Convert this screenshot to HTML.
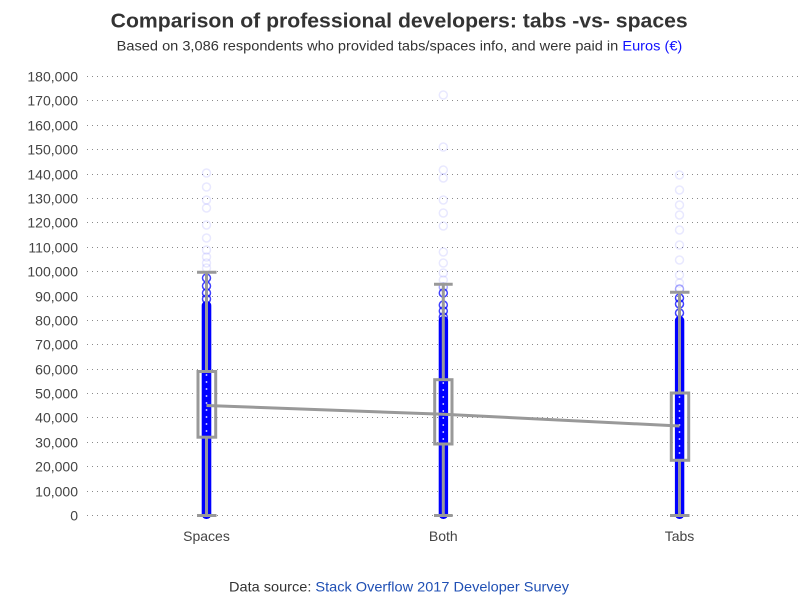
<!DOCTYPE html>
<html>
<head>
<meta charset="utf-8">
<style>
  html, body { margin: 0; padding: 0; background: #ffffff; }
  svg { display: block; }
  text { font-family: "Liberation Sans", Arial, sans-serif; }
</style>
</head>
<body>
<svg width="800" height="600" viewBox="0 0 800 600" xmlns="http://www.w3.org/2000/svg">
  <rect x="0" y="0" width="800" height="600" fill="#ffffff"/>

  <!-- Title -->
  <text x="110.7" y="27.7" font-size="20" font-weight="bold" fill="#333333" textLength="577" lengthAdjust="spacingAndGlyphs">Comparison of professional developers: tabs -vs- spaces</text>
  <text x="116.7" y="50.5" font-size="14" fill="#333333" textLength="565.6" lengthAdjust="spacingAndGlyphs">Based on 3,086 respondents who provided tabs/spaces info, and were paid in <tspan fill="#1010ff">Euros (€)</tspan></text>

  <!-- Gridlines -->
  <g stroke="#8a8a8a" stroke-width="1" stroke-dasharray="1 4" fill="none">
    <line x1="87" y1="515.5" x2="800" y2="515.5"/>
    <line x1="87" y1="491.5" x2="800" y2="491.5"/>
    <line x1="87" y1="466.5" x2="800" y2="466.5"/>
    <line x1="87" y1="442.5" x2="800" y2="442.5"/>
    <line x1="87" y1="417.5" x2="800" y2="417.5"/>
    <line x1="87" y1="393.5" x2="800" y2="393.5"/>
    <line x1="87" y1="369.5" x2="800" y2="369.5"/>
    <line x1="87" y1="344.5" x2="800" y2="344.5"/>
    <line x1="87" y1="320.5" x2="800" y2="320.5"/>
    <line x1="87" y1="296.5" x2="800" y2="296.5"/>
    <line x1="87" y1="271.5" x2="800" y2="271.5"/>
    <line x1="87" y1="247.5" x2="800" y2="247.5"/>
    <line x1="87" y1="222.5" x2="800" y2="222.5"/>
    <line x1="87" y1="198.5" x2="800" y2="198.5"/>
    <line x1="87" y1="174.5" x2="800" y2="174.5"/>
    <line x1="87" y1="149.5" x2="800" y2="149.5"/>
    <line x1="87" y1="125.5" x2="800" y2="125.5"/>
    <line x1="87" y1="100.5" x2="800" y2="100.5"/>
    <line x1="87" y1="76.5" x2="800" y2="76.5"/>
  </g>

  <!-- Y labels -->
  <g font-size="14" fill="#444444" text-anchor="end">
    <text x="78" y="520.5">0</text>
    <text x="78" y="496.5">10,000</text>
    <text x="78" y="471.5">20,000</text>
    <text x="78" y="447.5">30,000</text>
    <text x="78" y="422.5">40,000</text>
    <text x="78" y="398.5">50,000</text>
    <text x="78" y="374.5">60,000</text>
    <text x="78" y="349.5">70,000</text>
    <text x="78" y="325.5">80,000</text>
    <text x="78" y="301.5">90,000</text>
    <text x="78" y="276.5">100,000</text>
    <text x="78" y="252.5">110,000</text>
    <text x="78" y="227.5">120,000</text>
    <text x="78" y="203.5">130,000</text>
    <text x="78" y="179.5">140,000</text>
    <text x="78" y="154.5">150,000</text>
    <text x="78" y="130.5">160,000</text>
    <text x="78" y="105.5">170,000</text>
    <text x="78" y="81.5">180,000</text>
  </g>

  <!-- Faint outlier circles -->
  <g fill="none" stroke="#0000ff" stroke-width="1.5" stroke-opacity="0.09">
    <!-- Spaces -->
    <circle cx="206.5" cy="173" r="4"/>
    <circle cx="206.5" cy="187" r="4"/>
    <circle cx="206.5" cy="200" r="4"/>
    <circle cx="206.5" cy="208" r="4"/>
    <circle cx="206.5" cy="225" r="4"/>
    <circle cx="206.5" cy="238" r="4"/>
    <circle cx="206.5" cy="250" r="4"/>
    <circle cx="206.5" cy="257" r="4"/>
    <circle cx="206.5" cy="263" r="4"/>
    <circle cx="206.5" cy="268" r="4"/>
    <!-- Both -->
    <circle cx="443.3" cy="95" r="4"/>
    <circle cx="443.3" cy="147" r="4"/>
    <circle cx="443.3" cy="170" r="4"/>
    <circle cx="443.3" cy="178" r="4"/>
    <circle cx="443.3" cy="200" r="4"/>
    <circle cx="443.3" cy="213" r="4"/>
    <circle cx="443.3" cy="226" r="4"/>
    <circle cx="443.3" cy="252" r="4"/>
    <circle cx="443.3" cy="263" r="4"/>
    <circle cx="443.3" cy="273" r="4"/>
    <circle cx="443.3" cy="280" r="4"/>
    <!-- Tabs -->
    <circle cx="679.5" cy="175" r="4"/>
    <circle cx="679.5" cy="190" r="4"/>
    <circle cx="679.5" cy="205" r="4"/>
    <circle cx="679.5" cy="215" r="4"/>
    <circle cx="679.5" cy="230" r="4"/>
    <circle cx="679.5" cy="245" r="4"/>
    <circle cx="679.5" cy="260" r="4"/>
    <circle cx="679.5" cy="275" r="4"/>
    <circle cx="679.5" cy="283" r="4"/>
  </g>

  <!-- Darker circles near whisker tops -->
  <g fill="none" stroke="#0000ff" stroke-width="1.5" stroke-opacity="0.75">
    <circle cx="206.5" cy="278" r="4"/>
    <circle cx="206.5" cy="286" r="4"/>
    <circle cx="206.5" cy="293" r="4"/>
    <circle cx="206.5" cy="299" r="4"/>
    <circle cx="443.3" cy="293" r="4"/>
    <circle cx="443.3" cy="305" r="4"/>
    <circle cx="443.3" cy="311" r="4"/>
    <circle cx="443.3" cy="317" r="4"/>
    <circle cx="679.5" cy="298" r="4"/>
    <circle cx="679.5" cy="304" r="4"/>
    <circle cx="679.5" cy="313" r="4"/>
  </g>
  <g fill="none" stroke="#0000ff" stroke-width="1.5" stroke-opacity="0.35">
    <circle cx="443.3" cy="287" r="4"/>
    <circle cx="679.5" cy="289" r="4"/>
  </g>

  <!-- Dense blue strips -->
  <g fill="#0000ff">
    <rect x="201.7" y="301" width="9.6" height="218" rx="4.5"/>
    <rect x="438.7" y="316" width="9.4" height="203" rx="4.5"/>
    <rect x="674.9" y="316" width="9.4" height="203" rx="4.5"/>
  </g>

  <!-- Pale dashes inside boxes -->
  <g stroke="#b8b8ff" stroke-width="1.5" stroke-dasharray="2 5">
    <line x1="206.5" y1="374" x2="206.5" y2="435"/>
    <line x1="443.3" y1="382" x2="443.3" y2="442"/>
    <line x1="679.5" y1="396" x2="679.5" y2="458"/>
  </g>

  <!-- Box plots -->
  <g stroke="#999999" stroke-width="3" fill="none">
    <!-- Spaces -->
    <line x1="206.5" y1="272.3" x2="206.5" y2="371.5"/>
    <line x1="206.5" y1="437.2" x2="206.5" y2="515.5"/>
    <line x1="197" y1="272.3" x2="216.5" y2="272.3"/>
    <line x1="197" y1="515.5" x2="216.5" y2="515.5"/>
    <rect x="198" y="371.5" width="17.7" height="65.7"/>
    <!-- Both -->
    <line x1="443.3" y1="284.3" x2="443.3" y2="379.7"/>
    <line x1="443.3" y1="444" x2="443.3" y2="515.5"/>
    <line x1="434" y1="284.3" x2="452.7" y2="284.3"/>
    <line x1="434" y1="515.5" x2="452.7" y2="515.5"/>
    <rect x="434.7" y="379.7" width="17.3" height="64.3"/>
    <!-- Tabs -->
    <line x1="679.5" y1="292.3" x2="679.5" y2="393"/>
    <line x1="679.5" y1="460.3" x2="679.5" y2="515.5"/>
    <line x1="670" y1="292.3" x2="689.5" y2="292.3"/>
    <line x1="670" y1="515.5" x2="689.5" y2="515.5"/>
    <rect x="671.3" y="393" width="17.4" height="67.3"/>
    <!-- Connecting median line -->
    <polyline points="206.5,405.5 443.3,414.3 679.5,426" stroke-linejoin="round"/>
  </g>

  <!-- X labels -->
  <g font-size="14" fill="#444444" text-anchor="middle">
    <text x="206.5" y="541">Spaces</text>
    <text x="443.3" y="541">Both</text>
    <text x="679.5" y="541">Tabs</text>
  </g>

  <!-- Footer -->
  <text x="229" y="591.5" font-size="14" fill="#333333" textLength="340" lengthAdjust="spacingAndGlyphs">Data source: <tspan fill="#1f4fb4">Stack Overflow 2017 Developer Survey</tspan></text>
</svg>
</body>
</html>
